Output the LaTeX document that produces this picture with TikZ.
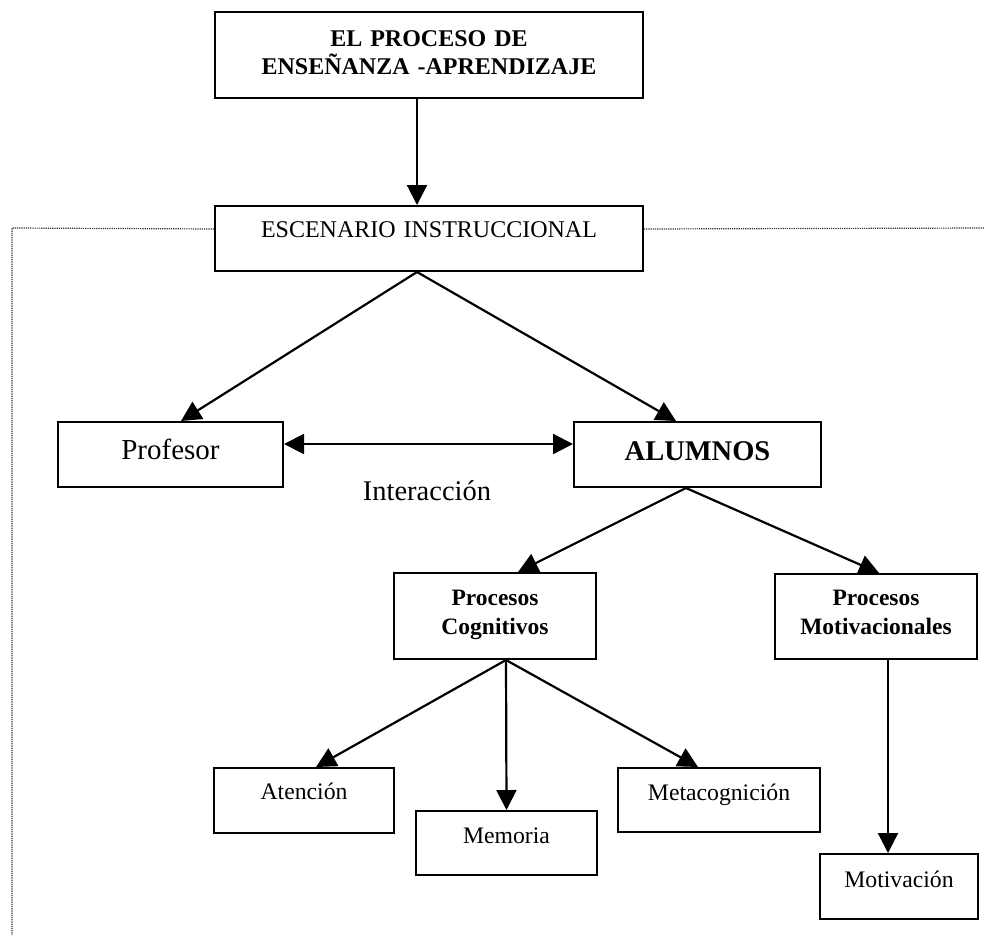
\documentclass[tikz,border=0pt]{standalone}
\usepackage{fontspec}
\setmainfont{Liberation Serif}
\usetikzlibrary{arrows.meta}

\tikzset{
  box/.style={draw, line width=2pt, inner sep=0pt, align=center, anchor=north west},
  tip/.style={Triangle[length=20pt,width=20pt]},
  conn/.style={line width=2.2pt, -{Triangle[length=20pt,width=20pt]}},
  bothconn/.style={line width=2.2pt, {Triangle[length=20pt,width=20pt]}-{Triangle[length=20pt,width=20pt]}},
  frameline/.style={line width=1.2pt, dash pattern=on 1.2pt off 1pt, black!80},
}

\begin{document}
\begin{tikzpicture}[x=1pt, y=-1pt]
  \useasboundingbox (0,0) rectangle (984,935);

  % main title and instructional setting
  \node[box, text width=428pt, text height=34pt, text depth=52pt,
        font=\fontsize{24}{28}\selectfont\bfseries] (proc) at (214,11)
        {EL PROCESO DE\\ENSEÑANZA -APRENDIZAJE};
  \node[box, text width=428pt, text height=31pt, text depth=34pt,
        font=\fontsize{24}{28}\selectfont] (esc) at (214,205)
        {ESCENARIO INSTRUCCIONAL};

  % actors
  \node[box, text width=225pt, text height=37pt, text depth=28pt,
        font=\fontsize{29}{33}\selectfont] (prof) at (57,421) {Profesor};
  \node[box, text width=247pt, text height=38pt, text depth=27pt,
        font=\fontsize{28.5}{33}\selectfont\bfseries] (alum) at (573,421) {ALUMNOS};
  \node[anchor=base, inner sep=0pt, font=\fontsize{28.5}{33}\selectfont] (inter) at (427,500) {Interacción};

  % processes
  \node[box, text width=202pt, text height=32pt, text depth=54pt,
        font=\fontsize{23.5}{29}\selectfont\bfseries] (cog) at (393,572)
        {Procesos\\Cognitivos};
  \node[box, text width=202pt, text height=31pt, text depth=54pt,
        font=\fontsize{23.5}{29}\selectfont\bfseries] (mot) at (774,573)
        {Procesos\\Motivacionales};

  % leaves
  \node[box, text width=180pt, text height=31pt, text depth=34pt,
        font=\fontsize{23.7}{28}\selectfont] (aten) at (213,767) {Atención};
  \node[box, text width=181pt, text height=32pt, text depth=32pt,
        font=\fontsize{23.7}{28}\selectfont] (mem) at (415,810) {Memoria};
  \node[box, text width=202pt, text height=32pt, text depth=32pt,
        font=\fontsize{23.7}{28}\selectfont] (meta) at (617,767) {Metacognición};
  \node[box, text width=158pt, text height=33pt, text depth=32pt,
        font=\fontsize{23.7}{28}\selectfont] (motiv) at (819,853) {Motivación};

  % dotted frame around the instructional setting
  \coordinate (fl) at (12,228);
  \coordinate (fb) at (12,935);
  \coordinate (fr) at (984,228);
  \draw[frameline] ([yshift=9.5pt]esc.west) -- (fl) -- (fb);
  \draw[frameline] ([yshift=9.5pt]esc.east) -- (fr);

  % connectors
  \draw[conn] ([xshift=-12pt]proc.south) -- ([xshift=-12pt]esc.north);
  \draw[conn] ([xshift=-12pt]esc.south) -- ([xshift=10.5pt]prof.north);
  \draw[conn] ([xshift=-12pt]esc.south) -- ([xshift=-21.5pt]alum.north);
  \draw[bothconn] ([yshift=10.5pt]prof.east) -- ([yshift=10.5pt]alum.west);
  \draw[conn] ([xshift=-11.5pt]alum.south) -- ([xshift=23pt]cog.north);
  \draw[conn] ([xshift=-11.5pt]alum.south) -- ([xshift=3pt]mot.north);
  \draw[conn] ([xshift=11pt]cog.south) -- ([xshift=12pt]aten.north);
  \draw[conn] ([xshift=11pt]cog.south) -- (mem.north);
  \draw[conn] ([xshift=11pt]cog.south) -- ([xshift=-21pt]meta.north);
  \draw[conn] ([xshift=12pt]mot.south) -- ([xshift=-11pt]motiv.north);
\end{tikzpicture}
\end{document}
